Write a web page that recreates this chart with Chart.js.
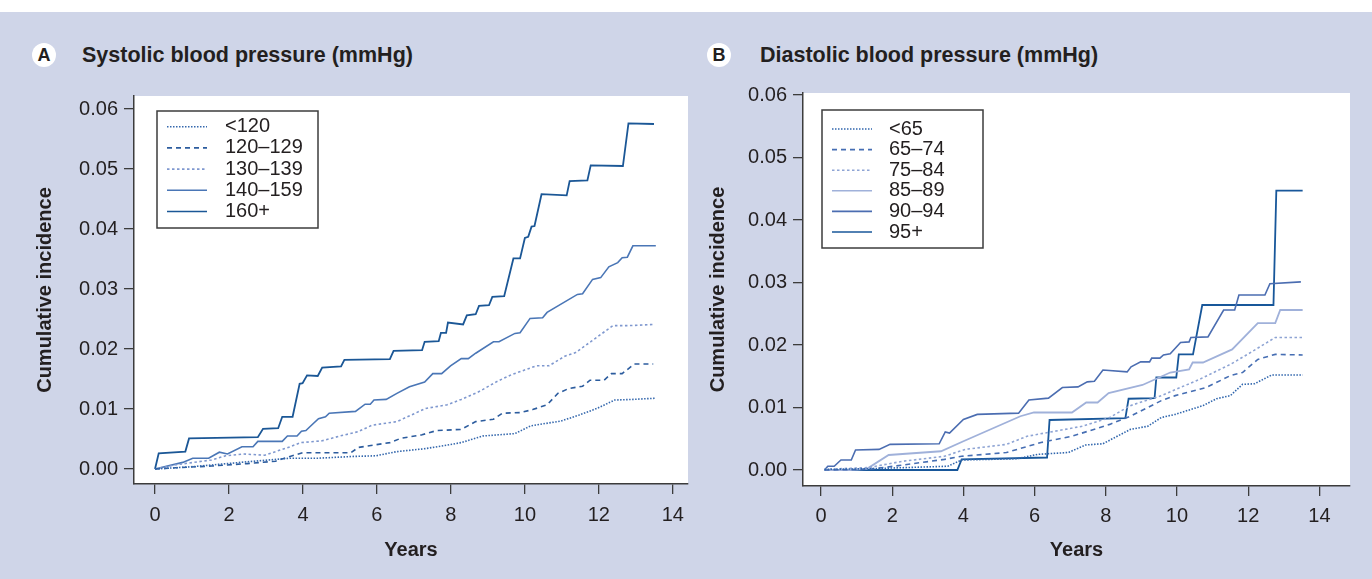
<!DOCTYPE html>
<html><head><meta charset="utf-8">
<script src="https://cdn.jsdelivr.net/npm/chart.js@4.4.1/dist/chart.umd.min.js"></script>
<style>
html,body{margin:0;padding:0;background:#fff;}
body{width:1372px;height:579px;position:relative;overflow:hidden;font-family:"Liberation Sans",Arial,sans-serif;}
#bg{position:absolute;left:0;top:12px;width:1372px;height:567px;background:#cfd5e8;}
.badge{position:absolute;width:24px;height:24px;border-radius:50%;background:#fff;color:#231f20;font-weight:bold;font-size:18px;line-height:24px;text-align:center;}
.ttl{position:absolute;font-weight:bold;font-size:21.5px;line-height:22px;color:#231f20;white-space:nowrap;}
canvas{position:absolute;top:0;}
</style></head>
<body>
<div id="bg"></div>
<div class="badge" style="left:32px;top:43px;">A</div>
<div class="ttl" style="left:82px;top:44px;">Systolic blood pressure (mmHg)</div>
<div class="badge" style="left:707px;top:43px;">B</div>
<div class="ttl" style="left:760px;top:44px;">Diastolic blood pressure (mmHg)</div>
<canvas id="cA" width="700" height="579" style="left:0;"></canvas>
<canvas id="cB" width="672" height="579" style="left:700px;"></canvas>
<script>
// ---------- tick labels ----------
const xTicks = [0, 2, 4, 6, 8, 10, 12, 14];
const xTickLabels = ['0', '2', '4', '6', '8', '10', '12', '14'];
const yTicks = [0, 0.01, 0.02, 0.03, 0.04, 0.05, 0.06];
const yTickLabels = ['0.00', '0.01', '0.02', '0.03', '0.04', '0.05', '0.06'];

// ---------- Panel A: systolic ----------
const sbpLabels = ['<120', '120\u2013129', '130\u2013139', '140\u2013159', '160+'];
const sbpLt120X = [0,1.04,2.49,3.65,4.42,5.39,5.97,6.54,7.32,7.90,8.28,8.86,9.73,10.16,10.98,11.47,11.95,12.43,12.92,13.54];
const sbpLt120Y = [0,0.0004,0.0012,0.0018,0.0018,0.0021,0.0022,0.0029,0.0034,0.0040,0.0044,0.0055,0.0059,0.0072,0.0080,0.0090,0.0101,0.0115,0.0116,0.0118];
const sbp120X = [0,0.56,1.53,2.49,3.26,3.65,3.99,5.29,5.50,6.35,6.64,7.22,7.61,8.28,8.67,9.15,9.39,9.87,10.21,10.60,10.89,11.18,11.56,11.76,12.14,12.34,12.63,12.96,13.47];
const sbp120Y = [0,0.0002,0.0005,0.0009,0.0013,0.0021,0.0027,0.0027,0.0036,0.0044,0.0051,0.0057,0.0064,0.0066,0.0079,0.0083,0.0093,0.0094,0.0099,0.0107,0.0126,0.0134,0.0138,0.0148,0.0148,0.0159,0.0159,0.0175,0.0175];
const sbp130X = [0,0.56,1.04,1.53,1.91,2.39,2.97,3.26,3.65,3.94,4.52,5.00,5.48,5.87,6.54,6.93,7.32,7.90,8.28,8.76,9.25,9.63,10.31,10.65,11.08,11.37,11.80,12.38,12.82,13.49];
const sbp130Y = [0,0.0007,0.0011,0.0015,0.0022,0.0025,0.0023,0.0029,0.0037,0.0044,0.0047,0.0055,0.0062,0.0073,0.0079,0.0090,0.0101,0.0107,0.0116,0.0129,0.0146,0.0157,0.0172,0.0172,0.0188,0.0194,0.0213,0.0239,0.0239,0.0241];
const sbp140X = [0,0.75,1.02,1.45,1.74,1.96,2.35,2.65,2.78,3.44,3.58,3.84,3.96,4.08,4.23,4.42,4.61,4.71,5.42,5.68,5.82,5.92,6.25,6.54,6.88,7.29,7.51,7.75,7.99,8.28,8.47,8.67,9.15,9.30,9.73,9.87,10.14,10.48,10.60,11.42,11.56,11.83,12.05,12.27,12.51,12.63,12.77,12.92,13.54];
const sbp140Y = [0,0.0011,0.0018,0.0018,0.0028,0.0025,0.0037,0.0037,0.0046,0.0046,0.0055,0.0055,0.0063,0.0064,0.0073,0.0084,0.0087,0.0093,0.0096,0.0108,0.0108,0.0115,0.0116,0.0126,0.0137,0.0145,0.0159,0.0159,0.0172,0.0184,0.0184,0.0193,0.0212,0.0212,0.0226,0.0227,0.0251,0.0252,0.0261,0.0291,0.0292,0.0316,0.0319,0.0337,0.0344,0.0352,0.0353,0.0372,0.0372];
const sbp160X = [0,0.10,0.82,0.92,2.78,2.92,3.33,3.44,3.72,3.91,3.99,4.11,4.40,4.52,5.03,5.12,6.35,6.45,7.22,7.29,7.67,7.73,7.87,7.92,8.33,8.43,8.67,8.76,9.03,9.12,9.44,9.69,9.87,10.00,10.09,10.18,10.26,10.45,11.13,11.21,11.69,11.78,12.65,12.80,13.49];
const sbp160Y = [0,0.0026,0.0029,0.0051,0.0053,0.0067,0.0068,0.0087,0.0087,0.0142,0.0143,0.0156,0.0155,0.0169,0.0171,0.0182,0.0183,0.0197,0.0198,0.0212,0.0213,0.0227,0.0227,0.0244,0.0241,0.0256,0.0258,0.0272,0.0273,0.0287,0.0288,0.0351,0.0351,0.0385,0.0387,0.0404,0.0405,0.0458,0.0456,0.0480,0.0481,0.0506,0.0505,0.0576,0.0575];

// ---------- Panel B: diastolic ----------
const dbpLabels = ['<65', '65\u201374', '75\u201384', '85\u201389', '90\u201394', '95+'];
const dbpLt65X = [0.10,1.34,3.56,3.95,5.50,6.08,6.95,7.43,7.92,8.69,9.18,9.56,9.95,10.73,11.11,11.50,11.84,12.18,12.66,13.53];
const dbpLt65Y = [0.0001,0.0002,0.0006,0.0016,0.0018,0.0025,0.0028,0.0040,0.0042,0.0065,0.0070,0.0084,0.0089,0.0103,0.0114,0.0119,0.0137,0.0138,0.0152,0.0152];
const dbp65X = [0.10,1.34,2.30,3.47,3.95,5.21,6.18,7.05,8.11,8.69,9.56,9.95,10.82,11.50,11.84,12.27,12.76,13.53];
const dbp65Y = [0,0.0001,0.0008,0.0017,0.0022,0.0028,0.0044,0.0054,0.0073,0.0086,0.0111,0.0119,0.0132,0.0151,0.0156,0.0177,0.0185,0.0184];
const dbp75X = [0.10,1.34,2.30,3.47,4.05,5.21,5.79,6.37,7.34,8.11,8.69,9.56,10.63,11.50,11.98,12.76,13.53];
const dbp75Y = [0.0001,0.0004,0.0014,0.0022,0.0033,0.0041,0.0054,0.0060,0.0070,0.0084,0.0103,0.0119,0.0145,0.0169,0.0185,0.0212,0.0212];
const dbp85X = [0.10,0.85,1.29,1.90,3.37,4.00,5.60,5.98,7.05,7.45,7.77,8.08,9.03,9.81,10.34,10.44,10.73,11.55,12.27,12.76,12.90,13.53];
const dbp85Y = [0,0,0.0002,0.0024,0.0030,0.0046,0.0086,0.0092,0.0092,0.0108,0.0108,0.0123,0.0136,0.0156,0.0161,0.0172,0.0172,0.0193,0.0235,0.0235,0.0256,0.0256];
const dbp90X = [0.10,0.19,0.37,0.56,0.85,0.97,1.63,1.94,3.32,3.49,3.61,4.00,4.39,5.55,5.84,6.39,6.78,7.22,7.48,7.68,7.92,8.60,8.71,8.98,9.23,9.29,9.52,9.62,9.81,10.10,10.34,10.39,10.87,11.31,11.62,11.74,12.47,12.61,13.48];
const dbp90Y = [0,0.0006,0.0006,0.0016,0.0016,0.0032,0.0033,0.0041,0.0042,0.0061,0.0059,0.0081,0.0089,0.0091,0.0112,0.0115,0.0132,0.0133,0.0141,0.0142,0.0160,0.0157,0.0165,0.0173,0.0173,0.0179,0.0179,0.0184,0.0186,0.0204,0.0205,0.0212,0.0213,0.0256,0.0256,0.0280,0.0280,0.0298,0.0301];
const dbp95X = [0.10,3.83,3.95,6.35,6.42,8.55,8.64,9.37,9.42,9.98,10.05,10.45,10.71,12.71,12.79,13.53];
const dbp95Y = [0,0,0.0017,0.0020,0.0080,0.0083,0.0114,0.0115,0.0148,0.0148,0.0185,0.0185,0.0264,0.0264,0.0447,0.0447];

// ---------- helpers ----------
const pts = (xs, ys) => xs.map((x, i) => ({x: x, y: ys[i]}));
const TXT = '#231f20';
const AX = '#3c3c3c';
Chart.defaults.font.family = "'Liberation Sans', Arial, sans-serif";
Chart.defaults.color = TXT;

function line(label, xs, ys, color, width, dash) {
  return {label: label, data: pts(xs, ys), borderColor: color, borderWidth: width,
          borderDash: dash, pointRadius: 0, tension: 0, fill: false};
}

const plotBg = {
  id: 'plotBg',
  beforeDraw(chart) {
    const a = chart.chartArea, ctx = chart.ctx;
    ctx.save(); ctx.fillStyle = '#ffffff';
    ctx.fillRect(a.left, a.top, a.right - a.left, a.bottom - a.top);
    ctx.restore();
  }
};

const boxLegend = {
  id: 'boxLegend',
  afterDraw(chart, args, o) {
    const ctx = chart.ctx;
    ctx.save();
    ctx.fillStyle = '#ffffff';
    ctx.fillRect(o.x, o.y, o.w, o.h);
    ctx.strokeStyle = AX; ctx.lineWidth = 1.5; ctx.setLineDash([]);
    ctx.strokeRect(o.x, o.y, o.w, o.h);
    chart.data.datasets.forEach((ds, i) => {
      const cy = o.y + o.first + i * o.step;
      ctx.beginPath();
      ctx.setLineDash(ds.borderDash || []);
      ctx.strokeStyle = ds.borderColor; ctx.lineWidth = Math.min(ds.borderWidth, 1.6);
      ctx.moveTo(o.x + o.s0, cy); ctx.lineTo(o.x + o.s1, cy); ctx.stroke();
      ctx.setLineDash([]);
      ctx.fillStyle = TXT; ctx.font = o.font; ctx.textBaseline = 'middle'; ctx.textAlign = 'left';
      ctx.fillText(ds.label, o.x + o.tx, cy);
    });
    ctx.restore();
  }
};

function makeChart(id, datasets, g) {
  return new Chart(document.getElementById(id), {
    type: 'line',
    data: {datasets: datasets},
    plugins: [plotBg, boxLegend],
    options: {
      responsive: false, animation: false, devicePixelRatio: 1,
      layout: {padding: g.pad},
      plugins: {legend: {display: false}, tooltip: {enabled: false}, boxLegend: g.legend},
      scales: {
        x: {
          type: 'linear', min: g.xmin, max: g.xmax,
          afterBuildTicks: s => { s.ticks = xTicks.map(v => ({value: v})); },
          afterFit: s => { s.height = g.xh; },
          ticks: {callback: (v, i) => xTickLabels[i], font: {size: 20}, padding: g.xpad, maxRotation: 0, autoSkip: false},
          grid: {drawOnChartArea: false, drawTicks: true, tickLength: 10, color: AX, lineWidth: 1.3},
          border: {display: true, color: AX, width: 1.5},
          title: {display: true, text: 'Years', font: {size: 20, weight: 'bold'}, padding: {top: 0, bottom: 17}}
        },
        y: {
          type: 'linear', min: g.ymin, max: g.ymax,
          afterBuildTicks: s => { s.ticks = yTicks.map(v => ({value: v})); },
          afterFit: s => { s.width = g.yw; },
          ticks: {callback: (v, i) => yTickLabels[i], font: {size: 20}, padding: 6, autoSkip: false},
          grid: {drawOnChartArea: false, drawTicks: true, tickLength: 10, color: AX, lineWidth: 1.3},
          border: {display: true, color: AX, width: 1.5},
          title: {display: true, text: 'Cumulative incidence', font: {size: 20, weight: 'bold'}, padding: {top: 0, bottom: 0}}
        }
      }
    }
  });
}

makeChart('cA', [
  line(sbpLabels[0], sbpLt120X, sbpLt120Y, '#3568ad', 1.6, [1.5, 1.5]),
  line(sbpLabels[1], sbp120X, sbp120Y, '#2c5c9e', 1.6, [5, 4]),
  line(sbpLabels[2], sbp130X, sbp130Y, '#7f98cf', 1.6, [2.5, 2.5]),
  line(sbpLabels[3], sbp140X, sbp140Y, '#4a76b6', 1.6, []),
  line(sbpLabels[4], sbp160X, sbp160Y, '#1b5796', 1.8, [])
], {
  pad: {left: 33, top: 96, right: 12, bottom: 0},
  yw: 101, xh: 95, xpad: 9,
  xmin: -0.568, xmax: 14.41, ymin: -0.0025, ymax: 0.06217,
  legend: {x: 157, y: 111, w: 161, h: 117, first: 15.7, step: 21.2, s0: 10, s1: 50, tx: 68, font: "20px 'Liberation Sans', Arial, sans-serif"}
});

makeChart('cB', [
  line(dbpLabels[0], dbpLt65X, dbpLt65Y, '#3066ad', 1.6, [1.5, 1.5]),
  line(dbpLabels[1], dbp65X, dbp65Y, '#466eb3', 1.6, [5, 4]),
  line(dbpLabels[2], dbp75X, dbp75Y, '#8ea4d4', 1.6, [2.5, 2.5]),
  line(dbpLabels[3], dbp85X, dbp85Y, '#a0b1da', 1.8, []),
  line(dbpLabels[4], dbp90X, dbp90Y, '#4b6db1', 1.6, []),
  line(dbpLabels[5], dbp95X, dbp95Y, '#18579a', 1.8, [])
], {
  pad: {left: 6, top: 93, right: 22, bottom: 0},
  yw: 97, xh: 93, xpad: 8,
  xmin: -0.506, xmax: 14.86, ymin: -0.00256, ymax: 0.06032,
  legend: {x: 122, y: 110, w: 161, h: 138, first: 19, step: 20.6, s0: 10, s1: 50, tx: 67, font: "20px 'Liberation Sans', Arial, sans-serif"}
});
</script>
</body></html>
